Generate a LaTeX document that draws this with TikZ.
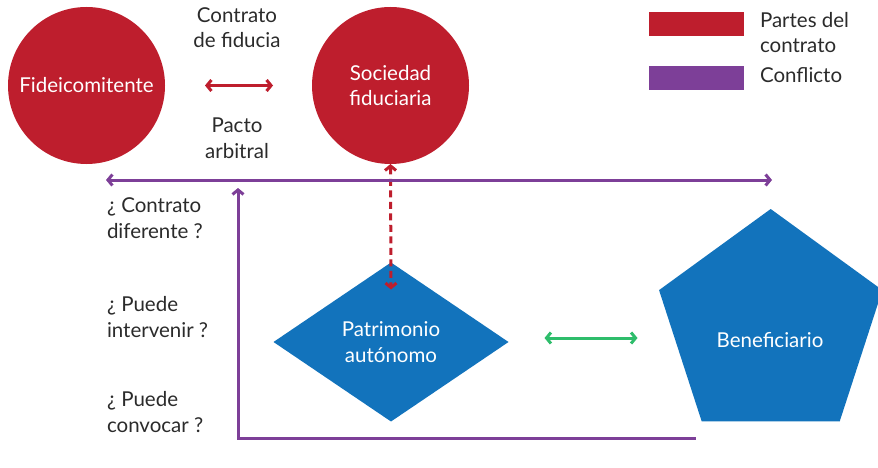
\documentclass[tikz,border=0pt]{standalone}
\usepackage{fontspec}
\setmainfont{Lato}
\usetikzlibrary{arrows.meta,shapes.geometric}
\definecolor{cred}{HTML}{BE1E2D}
\definecolor{cpurple}{HTML}{7D3F98}
\definecolor{cblue}{HTML}{1273BC}
\definecolor{cgreen}{HTML}{2EBD6B}
\definecolor{txt}{HTML}{2B2B2B}
\begin{document}
\begin{tikzpicture}[x=1pt,y=-1pt,
  every node/.style={font=\fontsize{20.5}{25.5}\selectfont, text=txt, inner sep=0pt, outer sep=0pt},
  party/.style={circle, fill=cred, minimum size=157pt, text=white, align=center},
  lbl/.style={align=center, anchor=base},
  qlbl/.style={align=left, anchor=base west},
  legbox/.style={minimum width=95pt, minimum height=24pt, anchor=north west},
  barb/.tip={Straight Barb[length=4.5pt,width=11pt]},
  redarrow/.style={draw=cred, line width=3pt, barb-barb},
  dashred/.style={draw=cred, line width=3pt, dash pattern=on 7pt off 4.5pt, barb-barb},
  conflict/.style={draw=cpurple, line width=3pt},
  greenarrow/.style={draw=cgreen, line width=3pt, barb-barb}
]
\useasboundingbox (0,0) rectangle (878,468);

% parties
\node[party] (fid) at (86.5,85.5) {Fideicomitente};
\node[party] (soc) at (390.5,85.5) {Sociedad\\fiduciaria};

% shapes
\node[diamond, fill=cblue, minimum width=235pt, minimum height=159pt, aspect=1.48, text=white, align=center] (pat) at (391,342) {Patrimonio\\autónomo};
\node[regular polygon, regular polygon sides=5, fill=cblue, minimum size=234.8pt] (ben) at (770.7,326.4) {};
\node[text=white] (bent) at (770,340) {Beneficiario};

% labels (base = last line baseline)
\node[lbl] (t1) at (237,48) {Contrato\\de fiducia};
\node[lbl] (t2) at (237,158) {Pacto\\arbitral};
\node[qlbl] (q1) at (107,238) {¿ Contrato\\diferente ?};
\node[qlbl] (q2) at (107,337) {¿ Puede\\intervenir ?};
\node[qlbl] (q3) at (107,432) {¿ Puede\\convocar ?};

% legend
\node[legbox, fill=cred] (lr) at (649,12) {};
\node[legbox, fill=cpurple] (lp) at (649,66) {};
\node[qlbl] (lrt) at (760,53) {Partes del\\contrato};
\node[qlbl] (lpt) at (760,83) {Conflicto};

% connectors
\draw[redarrow, shorten <=40pt, shorten >=39pt] (fid) -- (soc);
\draw[dashred] (soc.south) -- ([yshift=-27pt]pat.north);
\draw[greenarrow] (pat.east) ++(36,-4) coordinate (g1) -- ++(93,0) coordinate (g2);

\coordinate (cl) at (106,180);
\coordinate (cr) at (772,180);
\draw[conflict, barb-barb] (cl) -- (cr);
\coordinate (vt) at (238,188);
\coordinate (vb) at (238,438);
\coordinate (be) at (696,438);
\draw[conflict, barb-] (vt) -- (vb) -- (be);
\end{tikzpicture}
\end{document}
